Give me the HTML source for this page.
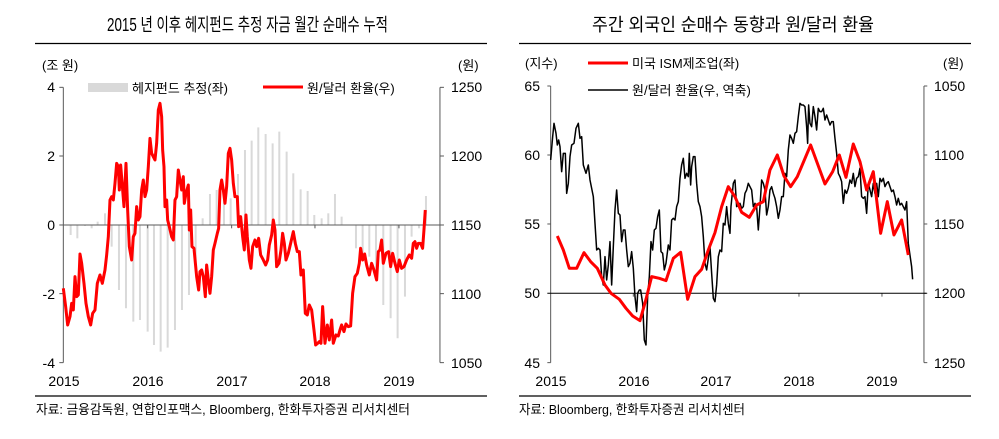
<!DOCTYPE html>
<html><head><meta charset="utf-8"><style>
body{margin:0;background:#fff;}
svg{display:block;font-family:"Liberation Sans","Noto Sans CJK KR",sans-serif;}
</style></head><body>
<svg width="999" height="439" viewBox="0 0 999 439">
<text x="107" y="31" font-size="18" textLength="281" lengthAdjust="spacingAndGlyphs" fill="#000">2015 년 이후 헤지펀드 추정 자금 월간 순매수 누적</text>
<text x="592" y="31" font-size="18" textLength="282" lengthAdjust="spacingAndGlyphs" fill="#000">주간 외국인 순매수 동향과 원/달러 환율</text>
<line x1="35" y1="43.5" x2="487" y2="43.5" stroke="#000" stroke-width="1.3"/>
<line x1="519" y1="43.5" x2="971" y2="43.5" stroke="#000" stroke-width="1.3"/>
<line x1="35" y1="396" x2="487" y2="396" stroke="#000" stroke-width="1.3"/>
<line x1="519" y1="396" x2="971" y2="396" stroke="#000" stroke-width="1.3"/>
<text x="36" y="414" font-size="13" textLength="374" lengthAdjust="spacingAndGlyphs" fill="#000">자료: 금융감독원, 연합인포맥스, Bloomberg, 한화투자증권 리서치센터</text>
<text x="519" y="414" font-size="13" textLength="226" lengthAdjust="spacingAndGlyphs" fill="#000">자료: Bloomberg, 한화투자증권 리서치센터</text>

<!-- LEFT CHART -->
<g font-size="14" fill="#000">
<text x="42" y="70" font-size="13">(조 원)</text>
<text x="458" y="70" font-size="13">(원)</text>
<text x="55" y="92" text-anchor="end">4</text>
<text x="55" y="161" text-anchor="end">2</text>
<text x="55" y="230" text-anchor="end">0</text>
<text x="55" y="299" text-anchor="end">-2</text>
<text x="55" y="368" text-anchor="end">-4</text>
<text x="451" y="92">1250</text>
<text x="451" y="161">1200</text>
<text x="451" y="230">1150</text>
<text x="451" y="299">1100</text>
<text x="451" y="368">1050</text>
<text x="64" y="386" text-anchor="middle">2015</text>
<text x="148" y="386" text-anchor="middle">2016</text>
<text x="232" y="386" text-anchor="middle">2017</text>
<text x="315" y="386" text-anchor="middle">2018</text>
<text x="399" y="386" text-anchor="middle">2019</text>
<rect x="88" y="83" width="40" height="9" fill="#d9d9d9"/>
<text x="132" y="93" font-size="13">헤지펀드 추정(좌)</text>
<line x1="263" y1="87" x2="303" y2="87" stroke="#f00" stroke-width="3"/>
<text x="307" y="93" font-size="13">원/달러 환율(우)</text>
</g>
<g transform="translate(0,50) scale(0.3333)">
<g stroke="#d9d9d9" stroke-width="6">
<line x1="212" y1="525" x2="212" y2="555"/><line x1="232" y1="525" x2="232" y2="565"/><line x1="255" y1="525" x2="255" y2="528"/><line x1="275" y1="525" x2="275" y2="535"/><line x1="293" y1="525" x2="293" y2="515"/><line x1="315" y1="525" x2="315" y2="490"/><line x1="335" y1="525" x2="335" y2="590"/><line x1="357" y1="525" x2="357" y2="720"/><line x1="378" y1="525" x2="378" y2="775"/><line x1="400" y1="525" x2="400" y2="815"/><line x1="420" y1="525" x2="420" y2="810"/><line x1="443" y1="525" x2="443" y2="845"/><line x1="462" y1="525" x2="462" y2="885"/><line x1="482" y1="525" x2="482" y2="905"/><line x1="503" y1="525" x2="503" y2="893"/><line x1="525" y1="525" x2="525" y2="840"/><line x1="546" y1="525" x2="546" y2="780"/><line x1="567" y1="525" x2="567" y2="735"/><line x1="587" y1="525" x2="587" y2="635"/><line x1="608" y1="525" x2="608" y2="505"/><line x1="630" y1="525" x2="630" y2="432"/><line x1="650" y1="525" x2="650" y2="420"/><line x1="672" y1="525" x2="672" y2="430"/><line x1="692" y1="525" x2="692" y2="445"/><line x1="714" y1="525" x2="714" y2="372"/><line x1="735" y1="525" x2="735" y2="300"/><line x1="755" y1="525" x2="755" y2="272"/><line x1="775" y1="525" x2="775" y2="232"/><line x1="797" y1="525" x2="797" y2="252"/><line x1="818" y1="525" x2="818" y2="280"/><line x1="838" y1="525" x2="838" y2="245"/><line x1="860" y1="525" x2="860" y2="305"/><line x1="880" y1="525" x2="880" y2="370"/><line x1="902" y1="525" x2="902" y2="418"/><line x1="923" y1="525" x2="923" y2="423"/><line x1="943" y1="525" x2="943" y2="495"/><line x1="965" y1="525" x2="965" y2="505"/><line x1="985" y1="525" x2="985" y2="490"/><line x1="1005" y1="525" x2="1005" y2="432"/><line x1="1025" y1="525" x2="1025" y2="500"/><line x1="1068" y1="525" x2="1068" y2="595"/><line x1="1088" y1="525" x2="1088" y2="630"/><line x1="1108" y1="525" x2="1108" y2="620"/><line x1="1128" y1="525" x2="1128" y2="660"/><line x1="1150" y1="525" x2="1150" y2="765"/><line x1="1172" y1="525" x2="1172" y2="805"/><line x1="1193" y1="525" x2="1193" y2="865"/><line x1="1215" y1="525" x2="1215" y2="740"/><line x1="1235" y1="525" x2="1235" y2="560"/><line x1="1257" y1="525" x2="1257" y2="535"/><line x1="1278" y1="525" x2="1278" y2="438"/>
</g>
<g stroke="#595959" stroke-width="3" fill="none">
<line x1="190" y1="112" x2="190" y2="938"/>
<line x1="178" y1="112" x2="190" y2="112"/><line x1="178" y1="318" x2="190" y2="318"/><line x1="178" y1="525" x2="190" y2="525"/><line x1="178" y1="731" x2="190" y2="731"/><line x1="178" y1="938" x2="190" y2="938"/>
<line x1="1320" y1="112" x2="1320" y2="938"/>
<line x1="1320" y1="112" x2="1332" y2="112"/><line x1="1320" y1="318" x2="1332" y2="318"/><line x1="1320" y1="525" x2="1332" y2="525"/><line x1="1320" y1="731" x2="1332" y2="731"/><line x1="1320" y1="938" x2="1332" y2="938"/>
<line x1="190" y1="525" x2="1330" y2="525"/>
<line x1="443" y1="525" x2="443" y2="535"/><line x1="695" y1="525" x2="695" y2="535"/><line x1="945" y1="525" x2="945" y2="535"/><line x1="1197" y1="525" x2="1197" y2="535"/>
</g>
<polyline fill="none" stroke="#f00" stroke-width="9" stroke-linejoin="round" points="190,715 197,770 203,825 210,800 215,760 220,780 225,680 230,740 235,735 240,612 245,640 252,700 258,760 265,800 272,825 278,790 285,780 292,700 300,675 307,700 315,660 320,615 325,560 330,450 335,440 340,450 345,400 350,340 355,350 358,420 362,345 368,420 372,470 378,340 383,480 388,590 395,630 400,560 405,550 410,470 415,510 420,500 425,420 430,390 435,440 440,420 445,350 450,265 455,310 460,320 465,330 470,280 475,180 480,160 485,200 488,300 492,350 495,470 500,450 503,510 508,530 515,560 520,570 525,450 530,440 535,360 540,390 545,420 550,380 553,460 558,430 565,405 568,540 572,480 576,590 582,595 590,680 596,720 600,665 605,660 610,680 616,740 620,645 625,690 630,730 635,680 640,600 645,580 652,550 656,535 660,420 665,390 670,420 675,460 680,410 685,310 690,295 695,330 700,400 705,440 712,440 716,530 722,500 728,560 733,600 738,495 742,560 748,630 753,655 758,590 765,570 770,590 776,565 782,615 790,630 797,645 803,630 808,585 815,555 820,510 825,540 830,650 837,640 843,600 848,550 853,580 858,630 865,610 872,580 880,545 886,580 892,605 898,605 903,675 910,660 916,790 922,795 928,765 935,780 942,840 947,885 953,880 958,875 963,880 968,770 975,880 982,825 988,870 995,810 1000,880 1008,855 1015,858 1020,840 1025,825 1032,845 1038,822 1045,830 1052,828 1058,730 1065,680 1072,670 1078,640 1082,595 1088,630 1094,612 1100,645 1108,675 1115,640 1122,660 1130,690 1135,605 1140,600 1145,570 1150,640 1158,610 1166,605 1172,650 1178,610 1185,640 1192,665 1198,630 1205,655 1212,650 1220,630 1228,615 1235,625 1240,580 1245,575 1250,595 1255,580 1262,580 1268,595 1272,540 1276,480"/>
</g>

<!-- RIGHT CHART -->
<g font-size="14" fill="#000">
<text x="525" y="68" font-size="13">(지수)</text>
<text x="943" y="68" font-size="13">(원)</text>
<text x="540" y="91" text-anchor="end">65</text>
<text x="540" y="160" text-anchor="end">60</text>
<text x="540" y="229" text-anchor="end">55</text>
<text x="540" y="298" text-anchor="end">50</text>
<text x="540" y="368" text-anchor="end">45</text>
<text x="934" y="91">1050</text>
<text x="934" y="160">1100</text>
<text x="934" y="229">1150</text>
<text x="934" y="298">1200</text>
<text x="934" y="368">1250</text>
<text x="551" y="386" text-anchor="middle">2015</text>
<text x="634" y="386" text-anchor="middle">2016</text>
<text x="716" y="386" text-anchor="middle">2017</text>
<text x="799" y="386" text-anchor="middle">2018</text>
<text x="882" y="386" text-anchor="middle">2019</text>
<line x1="588" y1="63" x2="628" y2="63" stroke="#f00" stroke-width="3"/>
<text x="632" y="68" font-size="13">미국 ISM제조업(좌)</text>
<line x1="588" y1="90" x2="628" y2="90" stroke="#000" stroke-width="1.5"/>
<text x="632" y="95" font-size="13">원/달러 환율(우, 역축)</text>
</g>
<g transform="translate(500,50) scale(0.3333)">
<g stroke="#595959" stroke-width="3" fill="none">
<line x1="152" y1="108" x2="152" y2="938"/>
<line x1="142" y1="108" x2="152" y2="108"/><line x1="142" y1="315" x2="152" y2="315"/><line x1="142" y1="522" x2="152" y2="522"/><line x1="142" y1="938" x2="152" y2="938"/>
<line x1="1272" y1="108" x2="1272" y2="938"/>
<line x1="1272" y1="108" x2="1282" y2="108"/><line x1="1272" y1="315" x2="1282" y2="315"/><line x1="1272" y1="522" x2="1282" y2="522"/><line x1="1272" y1="730" x2="1282" y2="730"/><line x1="1272" y1="938" x2="1282" y2="938"/>
<line x1="400" y1="730" x2="400" y2="740"/><line x1="648" y1="730" x2="648" y2="740"/><line x1="897" y1="730" x2="897" y2="740"/><line x1="1146" y1="730" x2="1146" y2="740"/>
</g>
<line x1="142" y1="730" x2="1280" y2="730" stroke="#000" stroke-width="3"/>
<polyline fill="none" stroke="#000" stroke-width="4.5" stroke-linejoin="round" points="152,330 158,260 162,220 168,250 172,285 176,270 180,290 185,365 190,310 196,310 200,430 205,400 210,320 215,285 222,280 228,235 235,220 240,265 245,260 250,345 258,370 265,345 270,390 280,440 285,520 290,600 295,595 300,600 305,680 310,705 315,620 320,690 325,645 330,575 335,705 340,590 345,480 350,420 355,490 360,495 365,575 370,540 375,540 380,600 385,650 390,640 395,605 400,655 405,740 410,785 413,730 418,720 422,720 428,760 433,870 438,885 443,740 448,680 453,575 458,600 463,540 468,535 473,500 478,480 483,605 488,610 493,660 498,640 505,585 510,600 515,510 520,505 525,510 530,470 535,455 540,385 545,345 550,325 555,385 560,370 565,380 568,310 572,405 575,350 580,320 585,320 590,400 595,455 600,470 605,500 610,560 615,640 620,660 625,625 630,590 635,670 640,745 645,755 650,705 655,620 660,600 665,605 670,520 675,525 680,470 685,520 690,550 693,470 700,400 705,390 710,470 715,465 720,460 725,475 730,470 735,430 740,420 745,400 750,410 755,420 760,470 765,460 770,470 775,540 780,470 785,390 790,400 795,420 800,495 805,470 810,420 815,410 820,430 825,445 830,470 835,505 840,480 845,440 850,440 855,370 860,380 865,300 870,255 875,265 880,280 885,250 890,245 895,200 900,160 905,165 910,165 915,170 920,230 923,280 926,165 930,220 935,230 940,170 945,200 950,240 955,175 960,185 965,185 970,175 975,210 980,195 985,210 990,225 995,215 1000,215 1005,265 1010,310 1015,370 1020,380 1025,395 1030,460 1035,420 1040,430 1045,415 1050,390 1055,400 1060,370 1065,410 1070,385 1075,380 1080,355 1085,440 1090,445 1095,440 1100,490 1105,400 1110,420 1115,440 1120,400 1125,430 1130,400 1135,440 1140,385 1145,395 1150,385 1155,410 1160,400 1165,395 1170,410 1175,425 1180,420 1185,440 1190,465 1195,445 1200,465 1205,460 1210,470 1215,480 1220,455 1225,580 1230,615 1235,650 1238,688"/>
<polyline fill="none" stroke="#f00" stroke-width="9" stroke-linejoin="round" points="172,558 190,600 208,655 230,655 252,608 272,635 292,655 315,705 333,730 358,748 378,775 398,798 420,812 438,748 455,680 478,685 498,692 520,625 542,607 563,748 585,680 605,658 625,600 645,548 665,470 685,410 705,440 725,487 748,502 770,465 790,455 810,360 832,315 852,378 872,410 892,380 932,285 975,402 998,365 1018,315 1038,382 1060,282 1080,335 1100,420 1120,365 1142,550 1162,455 1182,555 1205,510 1225,615"/>
</g>
</svg>
</body></html>
